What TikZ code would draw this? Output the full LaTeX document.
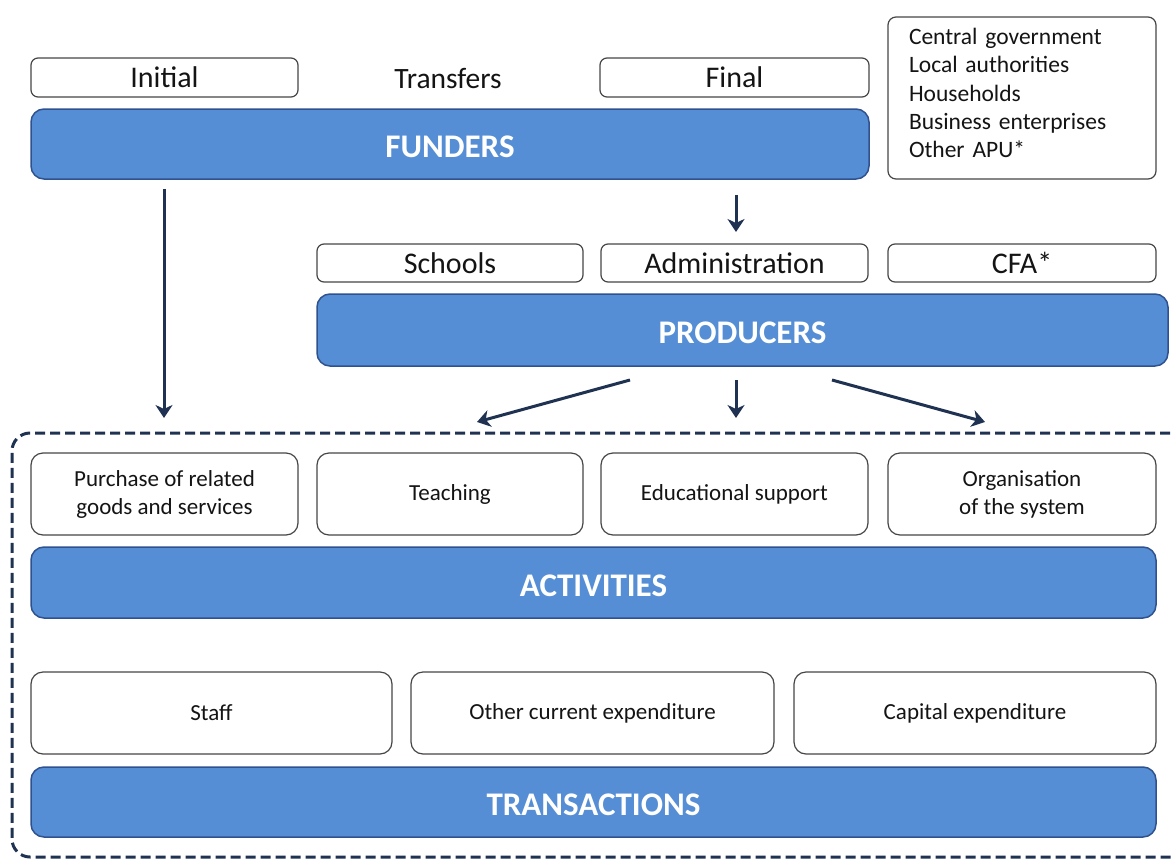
\documentclass[tikz,border=0pt]{standalone}
\usepackage{fontspec}
\setmainfont{Carlito}
\usetikzlibrary{arrows.meta}
\definecolor{barblue}{RGB}{85,142,213}
\definecolor{barline}{RGB}{47,82,143}
\definecolor{navy}{RGB}{31,50,82}
\definecolor{boxline}{RGB}{70,70,70}
\definecolor{txt}{RGB}{20,20,20}
\begin{document}
\begin{tikzpicture}[x=1pt,y=-1pt,
  lbl/.style={draw=boxline, line width=1.2pt, rounded corners=7pt, fill=white, text=txt,
    font=\fontsize{30}{34}\selectfont, inner sep=0pt},
  sbox/.style={draw=boxline, line width=1.2pt, rounded corners=12pt, fill=white, text=txt,
    font=\fontsize{23}{28}\selectfont, align=center, inner sep=0pt},
  bar/.style={draw=barline, line width=1.5pt, fill=barblue, rounded corners=13pt, text=white,
    font=\fontsize{33}{36}\selectfont\bfseries, inner sep=0pt, text height=27pt, text depth=0pt},
  arr/.style={draw=navy, line width=3pt, -{Stealth[length=13pt,width=17pt,inset=4pt]}},
  frame/.style={draw=navy, line width=3pt, dash pattern=on 10pt off 5pt, rounded corners=18pt}]
\useasboundingbox (0,0) rectangle (1171,860);

% top row
\node[lbl, minimum width=267pt, minimum height=39pt] (initial) at (164.5,77.5) {Initial};
\node[text=txt, font=\fontsize{29.5}{34}\selectfont, inner sep=0pt] (transfers) at (448,78) {Transfers};
\node[lbl, minimum width=269pt, minimum height=39pt] (final) at (734.5,77.5) {Final};
\node[draw=boxline, line width=1.2pt, rounded corners=8pt, fill=white, text=txt,
  font=\fontsize{23.5}{28.3}\selectfont, align=left, inner sep=0pt, text depth=123pt,
  text width=226pt, minimum width=268pt, minimum height=162pt] (list) at (1022,98)
  {Central government\\Local authorities\\Households\\Business enterprises\\Other APU*};
\node[bar, minimum width=838pt, minimum height=70pt] (funders) at (450,144) {FUNDERS};

% second row
\node[lbl, minimum width=266pt, minimum height=38pt] (schools) at (450,263) {Schools};
\node[lbl, minimum width=267pt, minimum height=38pt] (admin) at (734.5,263) {Administration};
\node[lbl, minimum width=268pt, minimum height=38pt] (cfa) at (1022,263) {CFA*};
\node[bar, minimum width=851pt, minimum height=72pt] (producers) at (742.5,330) {PRODUCERS};

% third row
\node[sbox, minimum width=267pt, minimum height=82pt] (purchase) at (164.5,494) {Purchase of related\\goods and services};
\node[sbox, minimum width=266pt, minimum height=82pt] (teaching) at (450,494) {Teaching};
\node[sbox, minimum width=267pt, minimum height=82pt] (support) at (734.5,494) {Educational support};
\node[sbox, minimum width=268pt, minimum height=82pt] (organisation) at (1022,494) {Organisation\\of the system};
\node[bar, minimum width=1125pt, minimum height=71pt] (activities) at (593.5,582.5) {ACTIVITIES};

% fourth row
\node[sbox, minimum width=361pt, minimum height=82pt] (staff) at (211.5,713) {Staff};
\node[sbox, minimum width=363pt, minimum height=82pt] (current) at (592.5,713) {Other current expenditure};
\node[sbox, minimum width=362pt, minimum height=82pt] (capital) at (975,713) {Capital expenditure};
\node[bar, minimum width=1125pt, minimum height=70pt] (transactions) at (593.5,802) {TRANSACTIONS};

% dashed frame
\begin{scope}
\clip (0,0) rectangle (1171,860);
\draw[frame] (1185,433) -- (12,433) -- (12,857) -- (1185,857);
\end{scope}

% arrows
\coordinate (fend) at (164,418);
\coordinate (aend) at (736,232);
\coordinate (p1s) at (630,380);
\coordinate (p1e) at (477,422);
\coordinate (p2s) at (736,380);
\coordinate (p2e) at (736,418);
\coordinate (p3s) at (832,380);
\coordinate (p3e) at (985,422);
\draw[arr] ([yshift=-9pt]funders.south -| fend) -- (fend);
\draw[arr] ([yshift=-15pt]funders.south -| aend) -- (aend);
\draw[arr] (p1s) -- (p1e);
\draw[arr] (p2s) -- (p2e);
\draw[arr] (p3s) -- (p3e);
\end{tikzpicture}
\end{document}
